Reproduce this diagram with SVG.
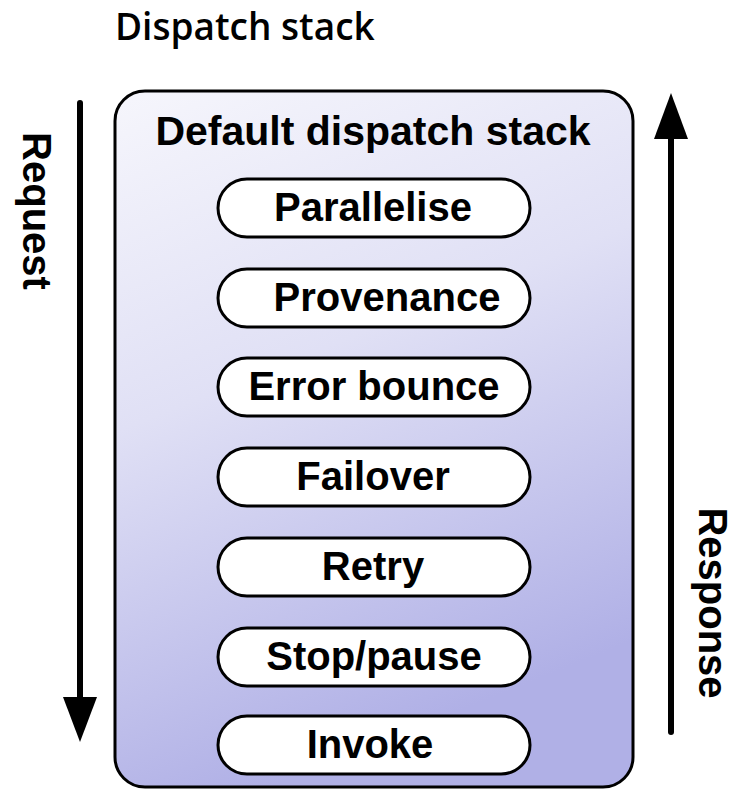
<svg xmlns="http://www.w3.org/2000/svg" width="739" height="791" viewBox="0 0 739 791">
<style>
.lbl{font-family:"Liberation Sans",Arial,sans-serif;font-weight:bold;fill:#000}
.pill{fill:#fff;stroke:#000;stroke-width:3}
.pt{font-size:40px;text-anchor:middle}
.arr{stroke:#000;stroke-width:6;stroke-linecap:round;fill:none}
</style>
<defs>
<linearGradient id="bg" x1="0" y1="0" x2="0.3" y2="1">
<stop offset="0" stop-color="#f6f6fc"/>
<stop offset="0.45" stop-color="#e0e0f5"/>
<stop offset="1" stop-color="#b0b0e6"/>
</linearGradient>
</defs>
<text x="115" y="40" style="font-family:'Open Sans',sans-serif;font-weight:600;font-size:37px">Dispatch stack</text>
<g id="stack">
<rect x="115" y="91" width="518" height="696" rx="30" fill="url(#bg)" stroke="#000" stroke-width="3"/>
<text class="lbl" x="373" y="145" font-size="41" text-anchor="middle">Default dispatch stack</text>
</g>
<g id="parallelise"><rect class="pill" x="218" y="179" width="312" height="58" rx="29"/><text class="lbl pt" x="373" y="221">Parallelise</text></g>
<g id="provenance"><rect class="pill" x="218" y="269" width="312" height="58" rx="29"/><text class="lbl pt" x="387" y="311">Provenance</text></g>
<g id="errorbounce"><rect class="pill" x="218" y="358" width="312" height="58" rx="29"/><text class="lbl pt" x="374" y="400">Error bounce</text></g>
<g id="failover"><rect class="pill" x="218" y="448" width="312" height="58" rx="29"/><text class="lbl pt" x="373" y="490">Failover</text></g>
<g id="retry"><rect class="pill" x="218" y="538" width="312" height="58" rx="29"/><text class="lbl pt" x="373" y="580">Retry</text></g>
<g id="stoppause"><rect class="pill" x="218" y="628" width="312" height="58" rx="29"/><text class="lbl pt" x="374" y="670">Stop/pause</text></g>
<g id="invoke"><rect class="pill" x="218" y="716" width="312" height="58" rx="29"/><text class="lbl pt" x="370" y="758">Invoke</text></g>
<g id="connectors">
<line class="arr" x1="80" y1="103" x2="80" y2="700"/>
<polygon points="63,697 97,697 80,742" fill="#000"/>
<line class="arr" x1="671" y1="136" x2="671" y2="732"/>
<polygon points="654,139 688,139 671,93" fill="#000"/>
</g>
<text class="lbl" font-size="40" text-anchor="middle" transform="translate(23,211) rotate(90)">Request</text>
<text class="lbl" font-size="40" text-anchor="middle" transform="translate(699,603) rotate(90)">Response</text>
</svg>
